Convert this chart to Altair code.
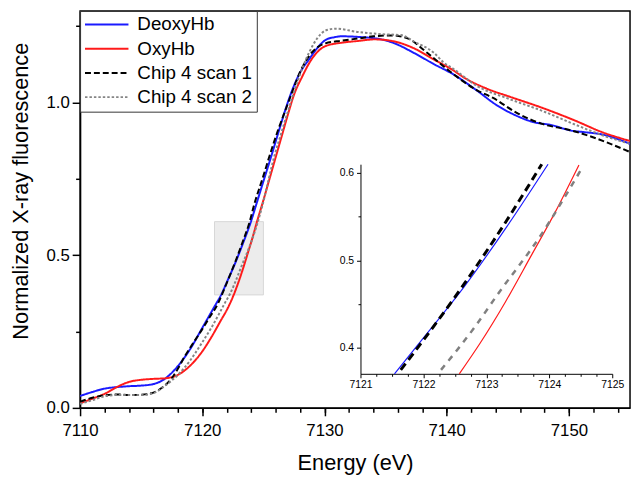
import altair as alt
import pandas as pd

series = ["DeoxyHb", "OxyHb", "Chip 4 scan 1", "Chip 4 scan 2"]
colors = ["#1a1aff", "#ff1a1a", "#000000", "#858585"]

deoxy_e = [7110, 7111, 7112, 7113, 7114, 7115, 7116, 7117, 7118, 7119, 7120, 7121,
           7121.54, 7122.1, 7122.64, 7123.32, 7123.98, 7124.4, 7125, 7125.65, 7126.25,
           7126.85, 7127.5, 7128.1, 7128.73, 7129.4, 7130.08, 7130.8, 7131.4, 7132.77,
           7134.65, 7135.73, 7137.3, 7138.95, 7140.56, 7142.45, 7144.07, 7145.7, 7147.0,
           7148.6, 7150.2, 7151.3, 7152.66, 7155]
deoxy_v = [0.039, 0.052, 0.063, 0.068, 0.071, 0.073, 0.078, 0.097, 0.137, 0.192, 0.262, 0.332,
           0.37, 0.42, 0.469, 0.538, 0.61, 0.664, 0.742, 0.825, 0.905,
           0.983, 1.055, 1.105, 1.141, 1.178, 1.205, 1.214, 1.217, 1.215,
           1.207, 1.194, 1.163, 1.126, 1.092, 1.04, 0.992, 0.957, 0.937,
           0.926, 0.908, 0.903, 0.896, 0.865]

oxy_e = [7110, 7111, 7112, 7113, 7114, 7115, 7116, 7117, 7118, 7119, 7120, 7120.75,
         7121.5, 7122.1, 7122.57, 7122.9, 7123.3, 7123.71, 7124.1, 7124.47, 7125, 7125.5,
         7126, 7126.5, 7127, 7127.5, 7128.2, 7128.73, 7129.4, 7130.08, 7131.4, 7132.8,
         7134.1, 7135.73, 7137.3, 7138.95, 7140.56, 7141.37, 7143.25, 7145.1, 7147.8,
         7150.5, 7152.66, 7155]
oxy_v = [0.015, 0.03, 0.046, 0.068, 0.085, 0.092, 0.095, 0.097, 0.108, 0.138, 0.185, 0.232,
         0.285, 0.328, 0.37, 0.405, 0.452, 0.505, 0.556, 0.609, 0.68, 0.75,
         0.82, 0.89, 0.96, 1.025, 1.087, 1.128, 1.165, 1.185, 1.196, 1.202,
         1.207, 1.2, 1.178, 1.141, 1.105, 1.083, 1.046, 1.02, 0.983,
         0.941, 0.904, 0.874]

chip1_e = [7110, 7111, 7112, 7113, 7114, 7115, 7116, 7116.7, 7117.5, 7118, 7118.6, 7119.3,
           7120, 7120.6, 7121.3, 7121.64, 7122.2, 7122.74, 7123.3, 7123.88, 7124.25, 7125,
           7125.5, 7126.2, 7126.85, 7127.5, 7128, 7128.73, 7130.08, 7131.4, 7132.77, 7134,
           7135.46, 7136.8, 7138.4, 7140, 7142.45, 7143.8, 7145.7, 7147.8, 7149.97, 7151.85,
           7155]
chip1_v = [0.02, 0.033, 0.041, 0.044, 0.042, 0.043, 0.05, 0.066, 0.097, 0.128, 0.171, 0.215,
           0.258, 0.297, 0.343, 0.3745, 0.428, 0.4825, 0.543, 0.61, 0.666, 0.76,
           0.825, 0.91, 0.98, 1.05, 1.1, 1.152, 1.194, 1.2025, 1.21, 1.217,
           1.22, 1.21, 1.163, 1.11, 1.041, 1.015, 0.967, 0.93, 0.911, 0.888,
           0.838]

chip2_e = [7110, 7111, 7112, 7113, 7114, 7115, 7116, 7117, 7118, 7119, 7119.4, 7120,
           7120.75, 7121.4, 7121.8, 7122.28, 7122.82, 7123.19, 7123.84, 7124.49, 7124.9,
           7125.9, 7126.5, 7127.1, 7127.8, 7128.73, 7129.4, 7130.08, 7130.9, 7132.77,
           7134.65, 7136.27, 7137.3, 7138.95, 7139.76, 7140.56, 7142.45, 7145.1, 7147.8,
           7150.5, 7152.66, 7155]
chip2_v = [0.013, 0.025, 0.038, 0.042, 0.042, 0.042, 0.048, 0.074, 0.108, 0.155, 0.178, 0.215,
           0.263, 0.31, 0.34, 0.3745, 0.424, 0.462, 0.526, 0.602, 0.66,
           0.825, 0.905, 0.983, 1.07, 1.163, 1.21, 1.236, 1.242, 1.231,
           1.224, 1.221, 1.2, 1.163, 1.131, 1.11, 1.055, 1.012, 0.973,
           0.928, 0.894, 0.865]

box_x = [7121]
box_x2 = [7125]
box_y = [0.37]
box_y2 = [0.61]

rows = []
for name, es, vs in zip(series, [deoxy_e, oxy_e, chip1_e, chip2_e],
                        [deoxy_v, oxy_v, chip1_v, chip2_v]):
    for e, v in zip(es, vs):
        rows.append({"series": name, "energy": e, "value": v})
df = pd.DataFrame(rows)
box_df = pd.DataFrame({"x": box_x, "x2": box_x2, "y": box_y, "y2": box_y2})

FONT = "Liberation Sans"

xs_main = alt.Scale(domain=[7110, 7155], nice=False, zero=False)
ys_main = alt.Scale(domain=[0, 1.3], nice=False, zero=False)

legend = alt.Legend(title=None, orient="none", legendX=0, legendY=0,
                    symbolType="stroke", symbolSize=1936, labelFontSize=19,
                    labelFont=FONT, labelColor="black", labelOffset=8,
                    padding=4, rowPadding=4.5, clipHeight=19.5, fillColor="white",
                    strokeColor="#333333")

lines = alt.Chart(df).mark_line(interpolate="monotone", clip=True).encode(
    x=alt.X("energy:Q", scale=xs_main,
            axis=alt.Axis(orient="bottom", values=[7110, 7120, 7130, 7140, 7150],
                          format="d", title="Energy (eV)", titleFontSize=22,
                          titleFontWeight="normal", titleY=62,
                          titleBaseline="alphabetic", labelFontSize=17,
                          labelPadding=7, tickSize=8, tickWidth=1.5,
                          domainWidth=1.5, grid=False, labelFlush=False)),
    y=alt.Y("value:Q", scale=ys_main,
            axis=alt.Axis(orient="left", values=[0, 0.5, 1.0], format=".1f",
                          title="Normalized X-ray fluorescence", titleFontSize=22,
                          titleFontWeight="normal", titleX=-53, titleY=182,
                          titleAngle=270, titleBaseline="alphabetic",
                          titleAlign="center", labelFontSize=17, labelPadding=3,
                          tickSize=8, tickWidth=1.5, domainWidth=1.5, grid=False)),
    color=alt.Color("series:N", scale=alt.Scale(domain=series, range=colors),
                    legend=legend),
    strokeDash=alt.StrokeDash("series:N",
                              scale=alt.Scale(domain=series,
                                              range=[[1, 0], [1, 0], [6, 3], [2.5, 2]]),
                              legend=legend),
    strokeWidth=alt.StrokeWidth("series:N",
                                scale=alt.Scale(domain=series, range=[2, 2, 2.5, 1.6]),
                                legend=legend),
)

rect = alt.Chart(box_df).mark_rect(fill="#ececec", stroke="#d6d6d6", strokeWidth=1).encode(
    x=alt.X("x:Q", scale=xs_main,
            axis=alt.Axis(orient="bottom", values=list(range(7112, 7156, 2)),
                          labels=False, title=None, domain=False, tickSize=4.5,
                          tickWidth=1.5, grid=False)),
    x2="x2",
    y=alt.Y("y:Q", scale=ys_main,
            axis=alt.Axis(orient="left", values=[0.25, 0.75, 1.25], labels=False,
                          title=None, domain=False, tickSize=4.5, tickWidth=1.5,
                          grid=False)),
    y2="y2",
)

main = alt.layer(rect, lines).resolve_axis(x="independent", y="independent")

xs_in = alt.Scale(domain=[7121, 7125], range=[284, 539], nice=False, zero=False)
ys_in = alt.Scale(domain=[0.37, 0.61], range=[367.5, 155.2], nice=False, zero=False)

inset_styles = {
    "DeoxyHb": dict(color="#1a1aff", strokeWidth=1.2),
    "OxyHb": dict(color="#ff1a1a", strokeWidth=1.2),
    "Chip 4 scan 1": dict(color="#000000", strokeWidth=3, strokeDash=[8, 5]),
    "Chip 4 scan 2": dict(color="#808080", strokeWidth=2.5, strokeDash=[6, 6]),
}

ax_in_x = alt.Axis(orient="bottom", offset=-34.5, values=[7121, 7122, 7123, 7124, 7125],
                   format="d", title=None, labelFontSize=10.5, labelPadding=2,
                   tickSize=4, tickWidth=1, domainWidth=1, grid=False, labelFlush=False)
ax_in_y = alt.Axis(orient="left", offset=-284, values=[0.4, 0.5, 0.6], format=".1f",
                   title=None, labelFontSize=10.5, labelPadding=3, tickSize=4,
                   tickWidth=1, domainWidth=1, grid=False)
ax_in_xm = alt.Axis(orient="bottom", offset=-34.5,
                    values=[7121.25, 7121.5, 7121.75, 7122.25, 7122.5, 7122.75,
                            7123.25, 7123.5, 7123.75, 7124.25, 7124.5, 7124.75],
                    labels=False, title=None, domain=False, tickSize=2.5,
                    tickWidth=1, grid=False)
ax_in_ym = alt.Axis(orient="left", offset=-284, values=[0.45, 0.55], labels=False,
                    title=None, domain=False, tickSize=2.5, tickWidth=1, grid=False)

inset_layers = []
for i, name in enumerate(series):
    if i == 0:
        axx, axy = ax_in_x, ax_in_y
    elif i == 1:
        axx, axy = ax_in_xm, ax_in_ym
    else:
        axx, axy = None, None
    layer = alt.Chart(df).transform_filter(
        alt.datum.series == name
    ).transform_filter(
        (alt.datum.value >= 0.369) & (alt.datum.value <= 0.611)
    ).mark_line(interpolate="monotone", **inset_styles[name]).encode(
        x=alt.X("energy:Q", scale=xs_in, axis=axx),
        y=alt.Y("value:Q", scale=ys_in, axis=axy),
    )
    inset_layers.append(layer)

inset = alt.layer(*inset_layers).resolve_axis(x="independent", y="independent")

chart = alt.layer(main, inset).resolve_scale(
    x="independent", y="independent"
).properties(
    width=557, height=402,
    autosize=alt.AutoSizeParams(type="none"),
    padding={"left": 73, "top": 0, "right": 2, "bottom": 67},
).configure_view(
    stroke="black", strokeWidth=1.5
).configure_axis(
    labelFont=FONT, titleFont=FONT, labelColor="black", titleColor="black",
    domainColor="black", tickColor="black"
)

chart.save("out.html", embed_options={"renderer": "svg", "actions": False})
